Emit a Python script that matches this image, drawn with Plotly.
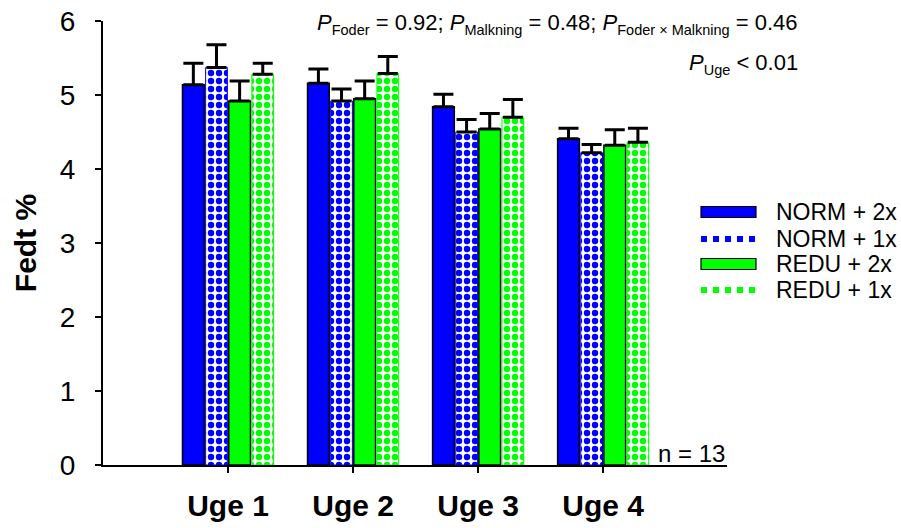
import plotly.graph_objects as go

weeks = ["Uge 1", "Uge 2", "Uge 3", "Uge 4"]
series = ["NORM + 2x", "NORM + 1x", "REDU + 2x", "REDU + 1x"]
norm2 = [5.14, 5.16, 4.84, 4.41]
norm2_err = [0.29, 0.19, 0.17, 0.14]
norm1 = [5.37, 4.92, 4.50, 4.22]
norm1_err = [0.31, 0.16, 0.17, 0.11]
redu2 = [4.92, 4.95, 4.54, 4.32]
redu2_err = [0.27, 0.24, 0.21, 0.21]
redu1 = [5.28, 5.29, 4.70, 4.36]
redu1_err = [0.15, 0.23, 0.24, 0.19]
y_ticks = [0, 1, 2, 3, 4, 5, 6]

FONT = "Liberation Sans, Arial, sans-serif"
BLUE = "#0000FF"
GREEN = "#00FF00"

values = [norm2, norm1, redu2, redu1]
errors = [norm2_err, norm1_err, redu2_err, redu1_err]
colors = [BLUE, BLUE, GREEN, GREEN]
checkered = [False, True, False, True]

fig = go.Figure()
for name, vals, errs, col, chk in zip(series, values, errors, colors, checkered):
    if chk:
        marker = dict(color="white",
                      line=dict(color=col, width=1),
                      pattern=dict(shape=".", fgcolor=col, bgcolor="white",
                                   size=8, solidity=0.5, fillmode="replace"))
    else:
        marker = dict(color=col, line=dict(color="black", width=1.5))
    fig.add_trace(go.Bar(
        x=weeks, y=vals, name=name, marker=marker,
        error_y=dict(type="data", array=errs, arrayminus=[0] * len(errs),
                     symmetric=False, color="black", thickness=3, width=10),
        showlegend=False,
    ))

W, H = 901, 528
L, R, T, B = 103, 174, 21, 63
pw = W - L - R
ph = H - T - B

def px_x(x):  # reference-pixel x -> paper
    return (x - L) / pw

def px_y(y):  # reference-pixel y -> paper
    return (H - B - y) / ph

# manual legend (wide swatches as in the reference)
rows_y = [212, 239, 264, 290]
for name, col, chk, yy in zip(series, colors, checkered, rows_y):
    if chk:
        fig.add_shape(type="line", xref="paper", yref="paper",
                      x0=px_x(701), x1=px_x(756), y0=px_y(yy), y1=px_y(yy),
                      line=dict(color=col, width=6, dash="dot"))
    else:
        fig.add_shape(type="rect", xref="paper", yref="paper",
                      x0=px_x(701), x1=px_x(756), y0=px_y(yy - 5.5), y1=px_y(yy + 5.5),
                      fillcolor=col, line=dict(color="black", width=1.2))
    fig.add_annotation(text=name, xref="paper", yref="paper", x=px_x(774), y=px_y(yy),
                       xanchor="left", yanchor="middle", showarrow=False,
                       font=dict(family=FONT, size=23, color="black"))

sub = lambda s: '<sub><span style="font-size:14.5px">' + s + '</span></sub>'
line1 = ("<i>P</i>" + sub("Foder") + " = 0.92; <i>P</i>" + sub("Malkning") +
         " = 0.48; <i>P</i>" + sub("Foder × Malkning") + " = 0.46")
line2 = "<i>P</i>" + sub("Uge") + " &lt; 0.01"
fig.add_annotation(text=line1, xref="paper", yref="paper", x=px_x(800), y=px_y(24),
                   xanchor="right", yanchor="middle", showarrow=False,
                   font=dict(family=FONT, size=22, color="black"))
fig.add_annotation(text=line2, xref="paper", yref="paper", x=px_x(800), y=px_y(64),
                   xanchor="right", yanchor="middle", showarrow=False,
                   font=dict(family=FONT, size=22, color="black"))
fig.add_annotation(text="n = 13", xref="paper", yref="paper", x=1.0, y=px_y(453),
                   xanchor="right", yanchor="middle", showarrow=False,
                   font=dict(family=FONT, size=24, color="black"))

fig.update_layout(
    width=W, height=H,
    margin=dict(l=L, r=R, t=T, b=B, autoexpand=False),
    paper_bgcolor="white", plot_bgcolor="white",
    barmode="group", bargap=0.26, bargroupgap=0.06,
    font=dict(family=FONT, color="black"),
    showlegend=False,
)
fig.update_xaxes(type="category", range=[-1, 3.99], showline=True, linecolor="black",
                 linewidth=2, ticks="outside", ticklen=6, tickwidth=1.5,
                 tickcolor="black", showgrid=False, zeroline=False,
                 tickfont=dict(family=FONT, size=30, color="black", weight="bold"),
                 ticklabelstandoff=7, ticklabeloverflow="allow")
fig.update_yaxes(range=[0, 6], tickvals=y_ticks, showline=True, linecolor="black",
                 linewidth=2, ticks="outside", ticklen=6, tickwidth=1.5,
                 tickcolor="black", showgrid=False, zeroline=False,
                 tickfont=dict(family=FONT, size=28, color="black"),
                 ticklabelstandoff=14, ticklabeloverflow="allow",
                 title=dict(text="<b>Fedt %</b>", standoff=14,
                            font=dict(family=FONT, size=30, color="black")))

# remove the default page margin so the 901x528 figure fills the window exactly
fig.write_html("out.html", config={"displayModeBar": False},
               post_script="document.body.style.margin='0';document.body.style.padding='0';")
